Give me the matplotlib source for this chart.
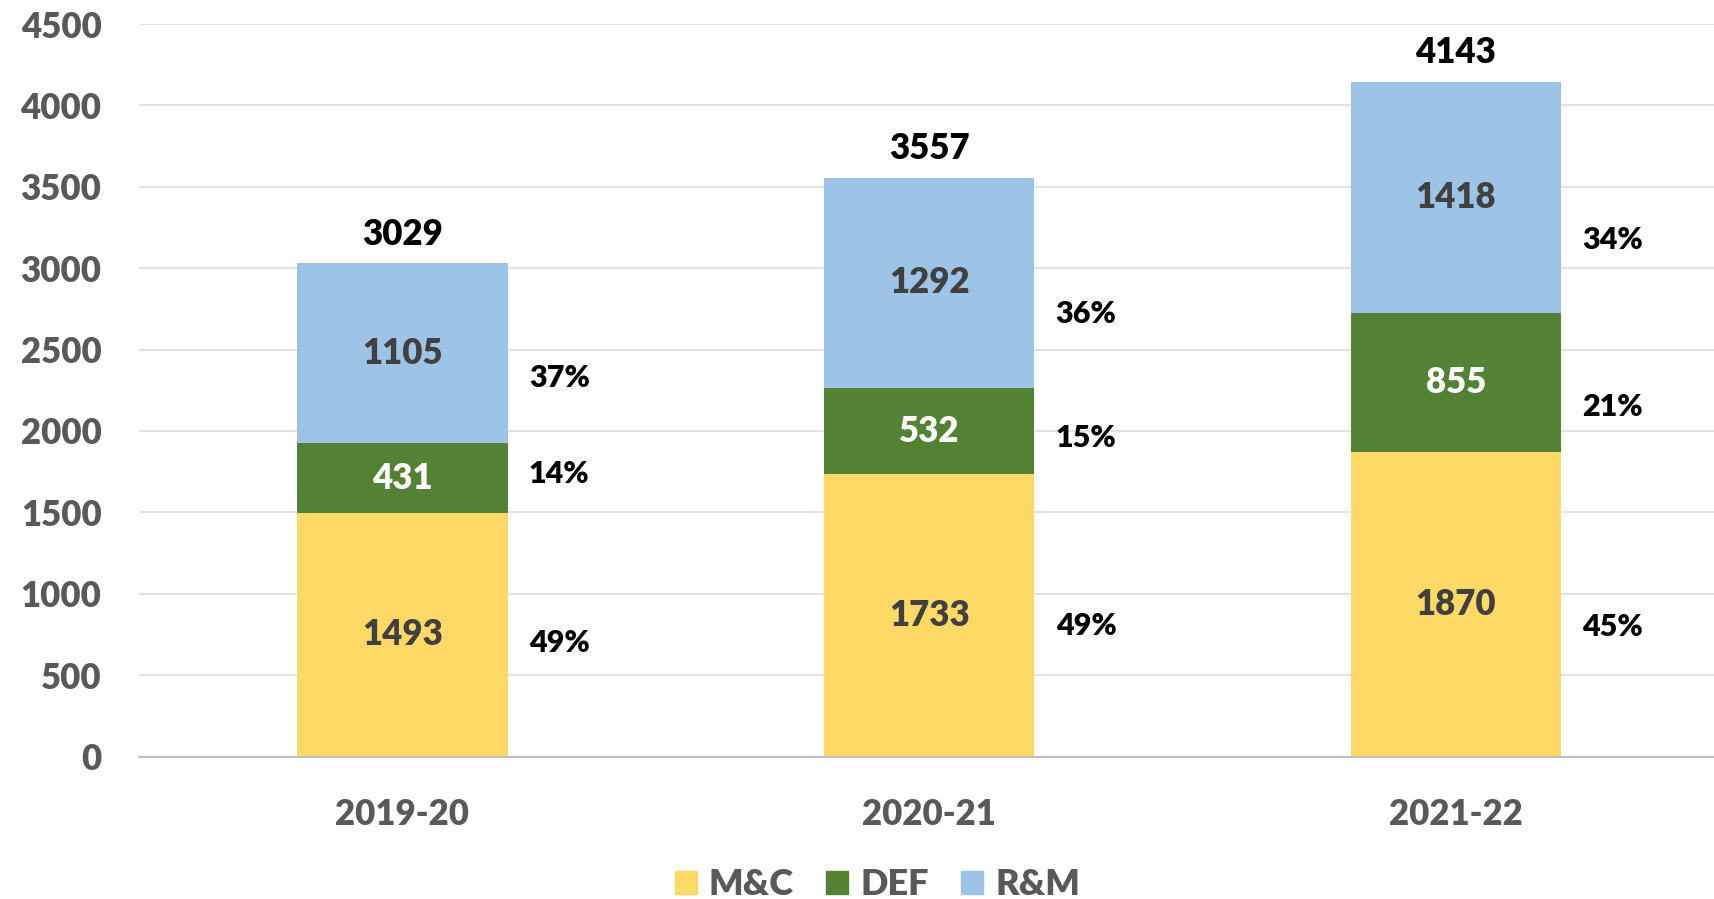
import matplotlib
matplotlib.use("Agg")
import matplotlib.pyplot as plt
from matplotlib.patches import Patch
import numpy as np

categories = ["2019-20", "2020-21", "2021-22"]
mc = [1493, 1733, 1870]
defv = [431, 532, 855]
rm = [1105, 1292, 1418]
totals = [3029, 3557, 4143]
mc_pct = ["49%", "49%", "45%"]
def_pct = ["14%", "15%", "21%"]
rm_pct = ["37%", "36%", "34%"]
series_names = ["M&C", "DEF", "R&M"]

# vertical nudges (data units) of the percentage labels from their segment centres
mc_pct_dy = [-50, -64, -138]
def_pct_dy = [30, -40, -148]
rm_pct_dy = [-150, -190, -264]

plt.rcParams['font.family'] = ['Lato', 'DejaVu Sans']
WT = 'heavy'

C_Y = "#FFD966"
C_G = "#548235"
C_B = "#9DC3E6"
GRAY = "#595959"
DARK = "#404040"

fig = plt.figure(figsize=(17.14, 8.99), dpi=100)
ax = fig.add_axes([0.0811, 0.1585, 0.9189, 0.8148])

x = np.arange(len(categories))
w = 0.40
mc_a = np.array(mc); def_a = np.array(defv); rm_a = np.array(rm)
ax.bar(x, mc_a, w, color=C_Y, zorder=3)
ax.bar(x, def_a, w, bottom=mc_a, color=C_G, zorder=3)
ax.bar(x, rm_a, w, bottom=mc_a + def_a, color=C_B, zorder=3)

fs = 25
for i in range(len(categories)):
    b0 = 0; b1 = mc_a[i]; b2 = mc_a[i] + def_a[i]
    ax.text(x[i], b0 + mc_a[i] / 2, str(mc[i]), ha='center', va='center', color=DARK, fontsize=fs, fontweight=WT, zorder=4)
    ax.text(x[i], b1 + def_a[i] / 2, str(defv[i]), ha='center', va='center', color='white', fontsize=fs, fontweight=WT, zorder=4)
    ax.text(x[i], b2 + rm_a[i] / 2, str(rm[i]), ha='center', va='center', color=DARK, fontsize=fs, fontweight=WT, zorder=4)
    xp = x[i] + 0.24
    ax.text(xp, b0 + mc_a[i] / 2 + mc_pct_dy[i], mc_pct[i], ha='left', va='center', color='black', fontsize=22, fontweight=WT)
    ax.text(xp, b1 + def_a[i] / 2 + def_pct_dy[i], def_pct[i], ha='left', va='center', color='black', fontsize=22, fontweight=WT)
    ax.text(xp, b2 + rm_a[i] / 2 + rm_pct_dy[i], rm_pct[i], ha='left', va='center', color='black', fontsize=22, fontweight=WT)
    ax.text(x[i], totals[i] + 180, str(totals[i]), ha='center', va='center', color='black', fontsize=fs, fontweight=WT)

ax.set_xlim(-0.5, 2.49)
ax.set_ylim(0, 4500)
ax.set_yticks(np.arange(0, 4501, 500))
ax.set_xticks(x)
ax.set_xticklabels(categories)
ax.tick_params(axis='both', length=0, labelsize=fs, labelcolor=GRAY)
ax.tick_params(axis='x', pad=30)
ax.tick_params(axis='y', pad=27)
for lab in ax.get_xticklabels() + ax.get_yticklabels():
    lab.set_fontweight(WT)
ax.grid(axis='y', color='#E3E3E3', linewidth=1.5, zorder=0)
for s in ['top', 'right', 'left']:
    ax.spines[s].set_visible(False)
ax.spines['bottom'].set_color('#BFBFBF')
ax.spines['bottom'].set_linewidth(1.5)
ax.spines['bottom'].set_zorder(5)

handles = [Patch(color=c) for c in (C_Y, C_G, C_B)]
leg = fig.legend(handles, series_names, loc='center', bbox_to_anchor=(0.512, 0.016), ncol=3,
                 frameon=False, fontsize=26, handlelength=0.61, handleheight=0.61,
                 handletextpad=0.33, columnspacing=0.9)
for t in leg.get_texts():
    t.set_color(GRAY)
    t.set_fontweight(WT)

fig.savefig("out.png", dpi=100)
